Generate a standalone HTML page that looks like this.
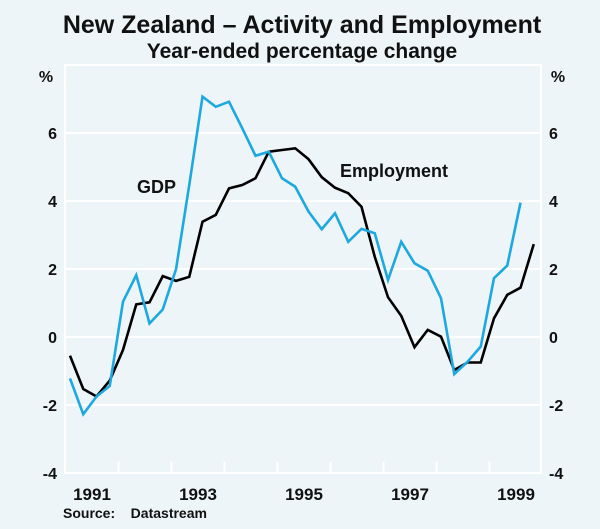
<!DOCTYPE html>
<html><head><meta charset="utf-8"><style>
body{margin:0;background:#edf5f8;font-family:"Liberation Sans",Arial,sans-serif;}
svg text{font-family:"Liberation Sans",Arial,sans-serif;font-weight:bold;fill:#111;}
</style></head><body>
<svg id="chart" width="600" height="524">
<rect x="0" y="0" width="600" height="524" fill="#edf5f8"/>
<text x="302" y="33" text-anchor="middle" font-size="25">New Zealand – Activity and Employment</text>
<text x="302" y="58" text-anchor="middle" font-size="21">Year-ended percentage change</text>
<rect x="65" y="65" width="476" height="408" fill="#edf5f8" stroke="#fff" stroke-width="2"/>
<g id="grid"></g><g id="lines"></g><g id="labels"></g>
<text x="137" y="193" font-size="18">GDP</text>
<text x="340" y="177" font-size="18">Employment</text>
<text x="46" y="82" text-anchor="middle" font-size="16">%</text>
<text x="558" y="82" text-anchor="middle" font-size="16">%</text>
<text x="63" y="518" font-size="14" xml:space="preserve">Source:    Datastream</text>
</svg>
<script>
const yTicks=[6,4,2,0,-2,-4];
const years=[1991,1993,1995,1997,1999];
const gdp=[-1.22,-2.27,-1.75,-1.44,1.04,1.82,0.40,0.81,1.99,4.47,7.07,6.77,6.92,6.14,5.33,5.45,4.67,4.42,3.69,3.17,3.64,2.80,3.18,3.05,1.68,2.80,2.17,1.95,1.14,-1.09,-0.73,-0.28,1.73,2.10,3.95];
const employment=[-0.55,-1.53,-1.75,-1.28,-0.38,0.96,1.02,1.79,1.65,1.77,3.39,3.59,4.37,4.47,4.67,5.45,5.50,5.55,5.23,4.70,4.39,4.23,3.83,2.36,1.17,0.62,-0.30,0.21,0.01,-0.97,-0.75,-0.75,0.55,1.24,1.45,2.73];
const NS='http://www.w3.org/2000/svg';
const yS=v=>337-v*34;
const xYear=y=>65.5+(y-1991)*53;
const xQ=i=>xYear(1991.085+i*0.25);
function mk(t,a,p){const e=document.createElementNS(NS,t);for(const k in a)e.setAttribute(k,a[k]);document.getElementById(p).appendChild(e);return e;}
yTicks.forEach(v=>{
 if(v>-4){const g=mk('line',{x1:65,x2:541,y1:yS(v),y2:yS(v),stroke:'#fff','stroke-width':2},'grid');
 
 }
 const l=mk('text',{x:57,y:yS(v)+6,'text-anchor':'end','font-size':16},'labels');l.textContent=v;
 
 
 const r=mk('text',{x:549,y:yS(v)+6,'font-size':16},'labels');r.textContent=v;
 
 
});
for(let y=1992;y<=1999;y++){const t=mk('line',{x1:xYear(y),x2:xYear(y),y1:473,y2:462,stroke:'#fff','stroke-width':2},'grid');
 
 }
years.forEach(y=>{const t=mk('text',{x:xYear(y)+26.5,y:500,'text-anchor':'middle','font-size':17},'labels');t.textContent=y;
 
 });
function line(d,c,name){const p=mk('polyline',{points:d.map((v,i)=>xQ(i)+','+yS(v)).join(' '),fill:'none',stroke:c,'stroke-width':2.6,'stroke-linejoin':'miter'},'lines');
 
 }
line(employment,'#000','employment-line');
line(gdp,'#1ea8e0','gdp-line');
</script>
</body></html>
